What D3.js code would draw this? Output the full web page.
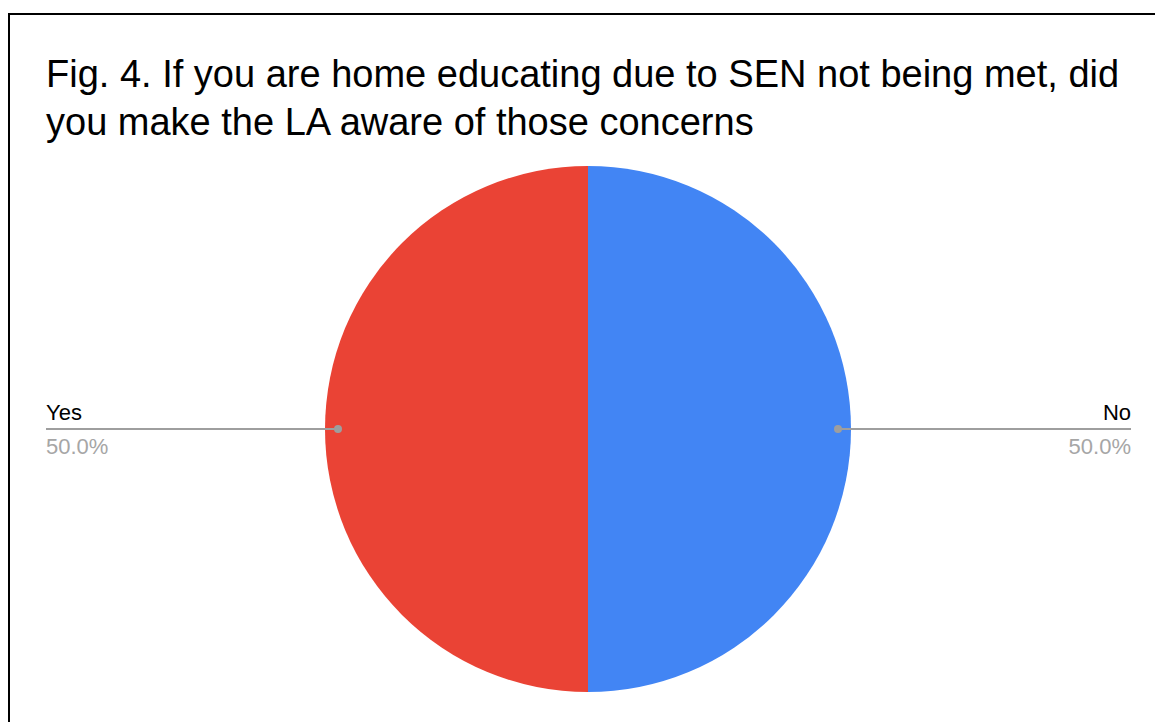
<!DOCTYPE html>
<html>
<head>
<meta charset="utf-8">
<script src="https://cdn.jsdelivr.net/npm/d3@7"></script>
<style>
  html, body { margin: 0; padding: 0; background: #fff; }
  svg { display: block; font-family: Arial, "Liberation Sans", sans-serif; }
</style>
</head>
<body>
<svg id="chart" width="1155" height="722"></svg>
<script>
// Survey answers (share of respondents)
const categories = ["No", "Yes"];
const values = [50, 50];
const colors = ["#4285f4", "#ea4335"];
const titleLines = [
  "Fig. 4. If you are home educating due to SEN not being met, did",
  "you make the LA aware of those concerns"
];

const svg = d3.select("#chart");
const W = 1155, H = 722;

// Frame (extends past the right and bottom edges)
svg.append("rect")
  .attr("x", 9).attr("y", 14)
  .attr("width", W + 20).attr("height", H + 20)
  .attr("fill", "#fff")
  .attr("stroke", "#000").attr("stroke-width", 2);

// Title
const title = svg.append("text")
  .attr("x", 46).attr("y", 87)
  .attr("font-size", 38).attr("fill", "#000");
titleLines.forEach((t, i) => {
  title.append("tspan").attr("x", 46).attr("dy", i === 0 ? 0 : 48).text(t);
});

// Pie
const cx = 588, cy = 429, r = 263;
const data = categories.map((c, i) => ({ label: c, value: values[i], color: colors[i] }));
const pie = d3.pie().value(d => d.value).sort(null);
const arcs = pie(data);
const arc = d3.arc().innerRadius(0).outerRadius(r);

const g = svg.append("g").attr("transform", `translate(${cx},${cy})`);
g.selectAll("path").data(arcs).join("path")
  .attr("d", arc)
  .attr("fill", d => d.data.color);

// Leader lines and labels
const total = d3.sum(values);
const fmt = d3.format(".1%");
const labelX = { No: 1131, Yes: 46 };

arcs.forEach(a => {
  const mid = (a.startAngle + a.endAngle) / 2;
  const px = cx + Math.sin(mid) * (r - 13);
  const py = cy - Math.cos(mid) * (r - 13);
  const right = Math.sin(mid) > 0;
  const ex = labelX[a.data.label];

  svg.append("line")
    .attr("x1", px).attr("y1", py)
    .attr("x2", ex).attr("y2", py)
    .attr("stroke", "#9e9e9e").attr("stroke-width", 2);
  svg.append("circle")
    .attr("cx", px).attr("cy", py).attr("r", 4)
    .attr("fill", "#9e9e9e");

  svg.append("text")
    .attr("x", ex).attr("y", py - 9)
    .attr("text-anchor", right ? "end" : "start")
    .attr("font-size", 22).attr("fill", "#000")
    .text(a.data.label);
  svg.append("text")
    .attr("x", ex).attr("y", py + 25)
    .attr("text-anchor", right ? "end" : "start")
    .attr("font-size", 22).attr("fill", "#a6a6a6")
    .text(fmt(a.data.value / total));
});
</script>
</body>
</html>
